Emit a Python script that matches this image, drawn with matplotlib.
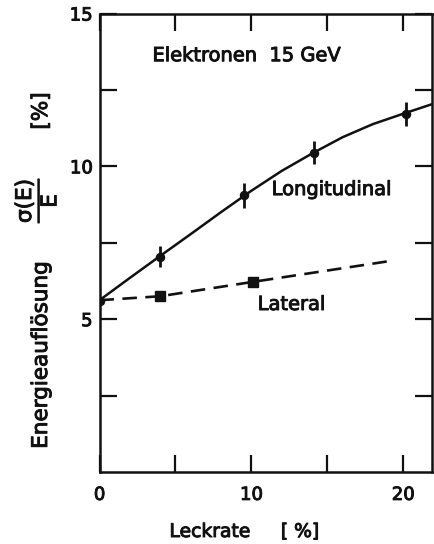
import matplotlib
matplotlib.use("Agg")
import matplotlib.pyplot as plt
import matplotlib.patheffects as pe
from matplotlib.ticker import FixedLocator, FuncFormatter

# ---- data ----
long_x = [4.0, 9.5, 14.1, 20.2]
long_y = [7.05, 9.05, 10.45, 11.72]
long_err = [0.35, 0.42, 0.37, 0.4]

start_x = [0.0]
start_y = [5.6]

long_curve_x = [0, 2, 4, 6, 8, 10, 12, 14, 16, 18, 20, 22]
long_curve_y = [5.62, 6.35, 7.07, 7.78, 8.5, 9.2, 9.85, 10.42, 10.95, 11.38, 11.72, 12.05]

lat_x = [4.0, 10.1]
lat_y = [5.75, 6.22]

lat_line_x = [0, 4.0, 10.1, 19.1]
lat_line_y = [5.62, 5.75, 6.22, 6.9]

x_ticks = [0, 5, 10, 15, 20]
x_labeled = [0, 10, 20]
y_ticks = [2.5, 5, 7.5, 10, 12.5, 15]
y_labeled = [5, 10, 15]

plt.rcParams['font.family'] = ['DejaVu Sans']
plt.rcParams['mathtext.fontset'] = 'dejavusans'
plt.rcParams['mathtext.default'] = 'regular'

ink = '#111111'
bold = [pe.withStroke(linewidth=0.7, foreground=ink)]

W, H = 434, 544
fig = plt.figure(figsize=(W / 100, H / 100), dpi=100)
ax = fig.add_axes([99.5 / W, 1 - 472 / H, (432 - 99.5) / W, (472 - 13.5) / H])

ax.plot(long_curve_x, long_curve_y, color=ink, lw=1.8, solid_capstyle='butt')
ax.errorbar(long_x, long_y, yerr=long_err, fmt='o', color=ink, ms=5.8,
            elinewidth=2.0, capsize=0)
ax.plot(start_x, start_y, 'o', color=ink, ms=5.8)
ax.plot(lat_line_x, lat_line_y, color=ink, lw=1.9, dashes=(5.5, 3.2))
ax.plot(lat_x, lat_y, 's', color=ink, ms=6.5)

ax.set_xlim(0, 21.9)
ax.set_ylim(0, 15)

ax.xaxis.set_major_locator(FixedLocator(x_ticks))
ax.yaxis.set_major_locator(FixedLocator(y_ticks))
ax.xaxis.set_major_formatter(FuncFormatter(lambda v, p: f"{v:g}" if v in x_labeled else ""))
ax.yaxis.set_major_formatter(FuncFormatter(lambda v, p: f"{v:g}" if v in y_labeled else ""))

ax.tick_params(direction='in', length=12.5, width=1.6, top=True, right=True,
               labelsize=13, colors=ink)
ax.tick_params(axis='x', pad=10)
ax.tick_params(axis='y', pad=5)
for lab in ax.get_xticklabels() + ax.get_yticklabels():
    lab.set_path_effects(bold)
for s in ax.spines.values():
    s.set_linewidth(1.8)
    s.set_color(ink)

kw = dict(fontsize=14, color=ink, ha='left', va='baseline', path_effects=bold)
ax.text(3.49, 13.44, "Elektronen  15 GeV", **kw)
ax.text(11.34, 9.06, "Longitudinal", **kw)
ax.text(10.42, 5.30, "Lateral", **kw)

# x-axis label
lkw = dict(fontsize=13.5, color=ink, va='baseline', path_effects=bold)
fig.text(210 / W, 1 - 537 / H, "Leckrate", ha='center', **lkw)
fig.text(300 / W, 1 - 537 / H, "[ %]", ha='center', **lkw)

# y-axis label (three parts)
rkw = dict(color=ink, rotation=90, rotation_mode='anchor', path_effects=bold)
fig.text(47 / W, 1 - 355 / H, "Energieauflösung", fontsize=15.5,
         ha='center', va='baseline', **rkw)
fig.text(47 / W, 1 - 111 / H, "[%]", fontsize=15.5,
         ha='center', va='baseline', **rkw)
fig.text(35.5 / W, 1 - 200 / H, r"$\dfrac{\sigma(E)}{E}$", fontsize=15.5,
         ha='center', va='center', **rkw)

fig.savefig("out.png", dpi=100)
